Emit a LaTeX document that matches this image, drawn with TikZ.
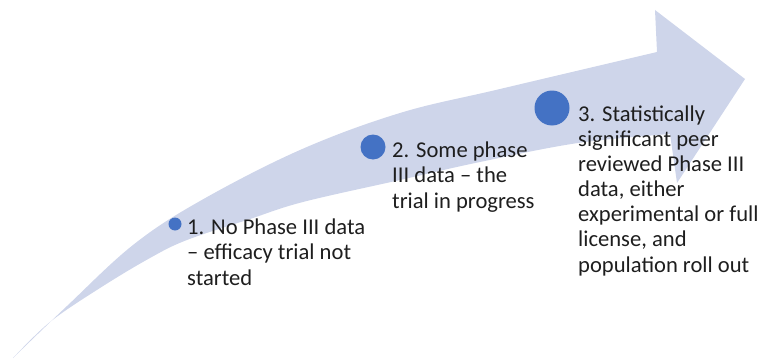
\documentclass[tikz,border=0pt]{standalone}
\usepackage{fontspec}
\setmainfont{Carlito}
\definecolor{arrowfill}{RGB}{206,213,234}
\definecolor{dotblue}{RGB}{68,114,196}
\definecolor{txt}{RGB}{30,30,30}
\begin{document}
\begin{tikzpicture}[x=1pt,y=-1pt,
  dot/.style={circle,fill=dotblue,inner sep=0pt},
  lbl/.style={anchor=base west,align=left,inner sep=0pt,text=txt,
    font=\fontsize{22.6}{25.1}\selectfont}]
\useasboundingbox (0,0) rectangle (773,361);
\fill[arrowfill]
  plot[smooth,tension=0.6] coordinates {(13,358) (67,306) (133,245) (200,201) (300,150) (400,113) (500,89) (657,52)}
  -- (655,10) -- (745,79) -- (677,183) -- (670,134)
  -- plot[smooth,tension=0.6] coordinates {(670,134) (578,143) (480,162) (400,180) (303,202) (250,219) (187,240) (150,258) (100,288) (50,322) (13,358)}
  -- cycle;
\node[dot,minimum size=13pt] (d1) at (175,224) {};
\node[dot,minimum size=25pt] (d2) at (373,147) {};
\node[dot,minimum size=35pt] (d3) at (552,108) {};
\node[lbl] (t1) at (187,285) {1. No Phase III data\\– efficacy trial not\\started};
\node[lbl] (t2) at (392,208) {2. Some phase\\III data – the\\trial in progress};
\node[lbl] (t3) at (578,272) {3. Statistically\\significant peer\\reviewed Phase III\\data, either\\experimental or full\\license, and\\population roll out};
\end{tikzpicture}
\end{document}
